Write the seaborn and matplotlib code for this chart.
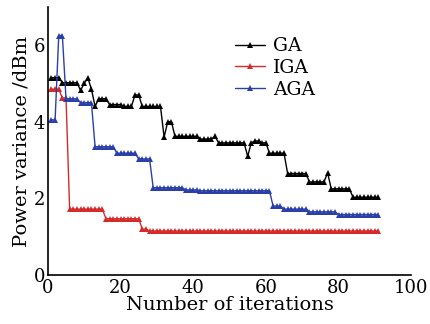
import numpy as np
import pandas as pd
import matplotlib
matplotlib.use("Agg")
import matplotlib.pyplot as plt
import seaborn as sns
from matplotlib.ticker import MultipleLocator, FixedLocator

iterations = list(range(1, 92))

ga = [5.15, 5.15, 5.15, 5.02, 5.02, 5.02, 5.02, 5.02, 4.82, 5.0,
      5.15, 4.85, 4.4, 4.6, 4.6, 4.6, 4.45, 4.45, 4.45, 4.45,
      4.4, 4.4, 4.4, 4.7, 4.7, 4.4, 4.4, 4.4, 4.4, 4.4,
      4.4, 3.6, 4.0, 4.0, 3.62, 3.62, 3.62, 3.62, 3.62, 3.62,
      3.62, 3.55, 3.55, 3.55, 3.55, 3.62, 3.45, 3.45, 3.45, 3.45,
      3.45, 3.45, 3.45, 3.45, 3.1, 3.45, 3.5, 3.5, 3.45, 3.45,
      3.18, 3.18, 3.18, 3.18, 3.18, 2.65, 2.65, 2.65, 2.65, 2.65,
      2.65, 2.43, 2.43, 2.43, 2.43, 2.43, 2.67, 2.25, 2.25, 2.25,
      2.25, 2.25, 2.25, 2.03, 2.03, 2.03, 2.03, 2.03, 2.03, 2.03,
      2.03]

iga = [4.85, 4.85, 4.85, 4.62, 4.62, 1.72, 1.72, 1.72, 1.72, 1.72,
       1.72, 1.72, 1.72, 1.72, 1.72, 1.47, 1.47, 1.47, 1.47, 1.47,
       1.47, 1.47, 1.47, 1.47, 1.47, 1.2, 1.2, 1.15, 1.15, 1.15,
       1.15, 1.15, 1.15, 1.15, 1.15, 1.15, 1.15, 1.15, 1.15, 1.15,
       1.15, 1.15, 1.15, 1.15, 1.15, 1.15, 1.15, 1.15, 1.15, 1.15,
       1.15, 1.15, 1.15, 1.15, 1.15, 1.15, 1.15, 1.15, 1.15, 1.15,
       1.15, 1.15, 1.15, 1.15, 1.15, 1.15, 1.15, 1.15, 1.15, 1.15,
       1.15, 1.15, 1.15, 1.15, 1.15, 1.15, 1.15, 1.15, 1.15, 1.15,
       1.15, 1.15, 1.15, 1.15, 1.15, 1.15, 1.15, 1.15, 1.15, 1.15,
       1.15]

aga = [4.05, 4.05, 6.25, 6.25, 4.6, 4.6, 4.6, 4.6, 4.5, 4.5,
       4.5, 4.5, 3.35, 3.35, 3.35, 3.35, 3.35, 3.35, 3.18, 3.18,
       3.18, 3.18, 3.18, 3.18, 3.03, 3.03, 3.03, 3.03, 2.28, 2.28,
       2.28, 2.28, 2.28, 2.28, 2.28, 2.28, 2.28, 2.22, 2.22, 2.22,
       2.22, 2.2, 2.2, 2.2, 2.2, 2.2, 2.2, 2.2, 2.2, 2.2,
       2.2, 2.2, 2.2, 2.2, 2.2, 2.2, 2.2, 2.2, 2.2, 2.2,
       2.2, 1.8, 1.8, 1.8, 1.72, 1.72, 1.72, 1.72, 1.72, 1.72,
       1.72, 1.65, 1.65, 1.65, 1.65, 1.65, 1.65, 1.65, 1.65, 1.58,
       1.58, 1.58, 1.58, 1.58, 1.58, 1.58, 1.58, 1.58, 1.58, 1.58,
       1.58]

series_names = ["GA", "IGA", "AGA"]
series_colors = ["#000000", "#d42a2a", "#2a3fa8"]

df = pd.DataFrame({
    "Iteration": iterations * 3,
    "Value": ga + iga + aga,
    "Method": ["GA"] * len(ga) + ["IGA"] * len(iga) + ["AGA"] * len(aga),
})

sns.set_theme(style="white")
plt.rcParams["font.family"] = ["DejaVu Serif"]
plt.rcParams["text.color"] = "black"
plt.rcParams["axes.labelcolor"] = "black"

fig = plt.figure(figsize=(4.31, 3.24), dpi=100)
ax = fig.add_axes([0.111, 0.151, 0.843, 0.828])

sns.lineplot(data=df, x="Iteration", y="Value", hue="Method",
             hue_order=series_names, palette=series_colors,
             marker="^", markersize=4, markeredgewidth=0,
             linewidth=1.0, ax=ax, legend=True)

ax.set_xlim(0, 100)
ax.set_ylim(0, 7)
ax.xaxis.set_major_locator(MultipleLocator(20))
ax.yaxis.set_major_locator(FixedLocator([0, 2, 4, 6]))
ax.yaxis.set_minor_locator(FixedLocator([7]))
ax.tick_params(axis="both", which="both", direction="in", length=4,
               width=1, labelsize=13, colors="black", pad=2)
ax.tick_params(axis="x", pad=3)
for s in ["top", "right"]:
    ax.spines[s].set_visible(False)
for s in ["left", "bottom"]:
    ax.spines[s].set_color("black")
    ax.spines[s].set_linewidth(1.2)

ax.set_xlabel("Number of iterations", fontsize=14, labelpad=-1)
ax.set_ylabel("Power variance /dBm", fontsize=14, labelpad=2)

leg = ax.legend(loc="upper left", bbox_to_anchor=(0.47, 0.95), frameon=False,
                fontsize=13.5, handlelength=1.6, handletextpad=0.4,
                labelspacing=0.2)

fig.savefig("out.png", dpi=100)
